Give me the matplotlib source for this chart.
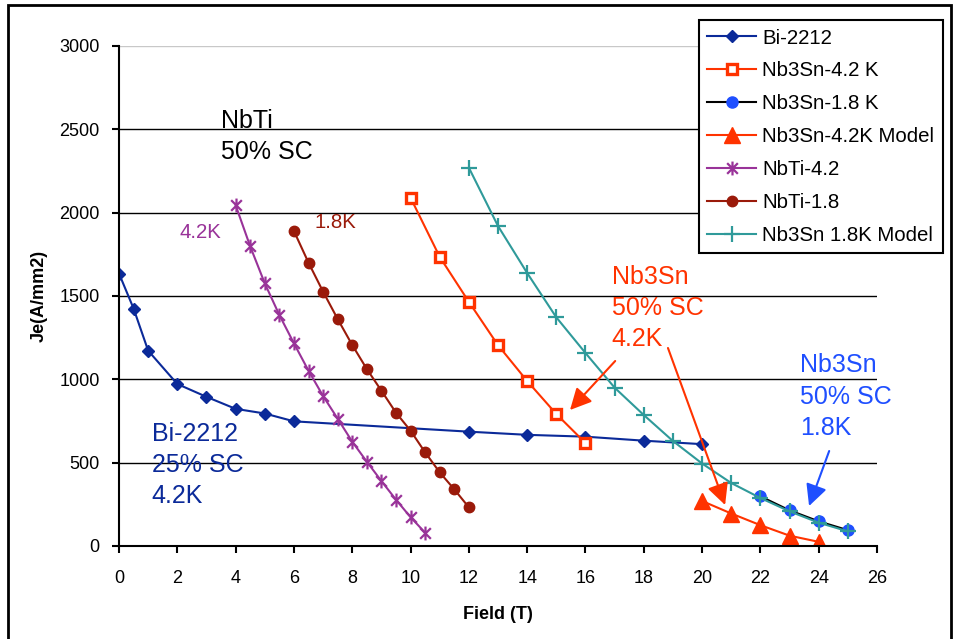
import matplotlib
matplotlib.use("Agg")
import matplotlib.pyplot as plt
from matplotlib.path import Path
from matplotlib.patches import Rectangle

plt.rcParams['font.family'] = ['Liberation Sans', 'DejaVu Sans']

# ---------------- data ----------------
field_bi = [0, 0.5, 1, 2, 3, 4, 5, 6, 12, 14, 16, 18, 20]
je_bi = [1635, 1425, 1172, 972, 895, 823, 795, 748, 686, 667, 656, 632, 611]

field_nb3sn42 = [10, 11, 12, 13, 14, 15, 16]
je_nb3sn42 = [2090, 1735, 1465, 1205, 990, 792, 618]

field_nb3sn18 = [22, 23, 24, 25]
je_nb3sn18 = [298, 214, 148, 95]

field_model42 = [20, 21, 22, 23, 24]
je_model42 = [270, 195, 125, 62, 25]

field_nbti42 = [4, 4.5, 5, 5.5, 6, 6.5, 7, 7.5, 8, 8.5, 9, 9.5, 10, 10.5]
je_nbti42 = [2045, 1798, 1576, 1386, 1216, 1052, 900, 764, 626, 506, 390, 278, 173, 80]

field_nbti18 = [6, 6.5, 7, 7.5, 8, 8.5, 9, 9.5, 10, 10.5, 11, 11.5, 12]
je_nbti18 = [1890, 1700, 1526, 1362, 1206, 1062, 932, 800, 692, 562, 442, 340, 232]

field_model18 = [12, 13, 14, 15, 16, 17, 18, 19, 20, 21, 22, 23, 24, 25]
je_model18 = [2270, 1920, 1638, 1372, 1158, 950, 786, 630, 495, 378, 288, 208, 140, 88]

x_ticks = list(range(0, 27, 2))
y_ticks = [0, 500, 1000, 1500, 2000, 2500, 3000]

labels = ["Bi-2212", "Nb3Sn-4.2 K", "Nb3Sn-1.8 K", "Nb3Sn-4.2K Model",
          "NbTi-4.2", "NbTi-1.8", "Nb3Sn 1.8K Model"]

# ---------------- colours ----------------
c_bi = '#0b2a99'
c_red = '#ff3300'
c_blue = '#1f4fff'
c_purple = '#993399'
c_dred = '#9a1a0a'
c_teal = '#2f9a9a'

star = Path([(-1, -1), (1, 1), (-1, 1), (1, -1), (0, -1.3), (0, 1.3)],
            [Path.MOVETO, Path.LINETO, Path.MOVETO, Path.LINETO, Path.MOVETO, Path.LINETO])

fig = plt.figure(figsize=(9.57, 6.39), dpi=100)
ax = fig.add_axes([119/957, 1-546/639, (877-119)/957, (546-46)/639])

lw = 1.5
h = []
h += ax.plot(field_bi, je_bi, color=c_bi, lw=lw, marker='D', ms=6.5, mfc=c_bi, mec=c_bi, label=labels[0])
h += ax.plot(field_nb3sn42, je_nb3sn42, color=c_red, lw=lw, marker='s', ms=6.5, mfc='white', mec=c_red, mew=2.4, label=labels[1])
h += ax.plot(field_nb3sn18, je_nb3sn18, color='black', lw=lw, marker='o', ms=8, mfc=c_blue, mec=c_blue, label=labels[2])
h += ax.plot(field_model42, je_model42, color=c_red, lw=lw, marker='^', ms=12, mfc=c_red, mec=c_red, label=labels[3])
h += ax.plot(field_nbti42, je_nbti42, color=c_purple, lw=lw, marker=star, ms=10, mfc='none', mec=c_purple, mew=1.6, label=labels[4])
h += ax.plot(field_nbti18, je_nbti18, color=c_dred, lw=lw, marker='o', ms=7.5, mfc=c_dred, mec=c_dred, label=labels[5])
h += ax.plot(field_model18, je_model18, color=c_teal, lw=lw, marker='+', ms=11, mew=1.6, mec=c_teal, label=labels[6])

ax.set_xlim(0, 26)
ax.set_ylim(0, 3000)
ax.set_xticks(x_ticks)
ax.set_yticks(y_ticks)
ax.tick_params(axis='both', direction='out', length=5, width=1.5, labelsize=13, color='black')
ax.tick_params(axis='y', pad=9)
ax.tick_params(axis='x', pad=12)
for s in ['top', 'right']:
    ax.spines[s].set_visible(False)
for s in ['left', 'bottom']:
    ax.spines[s].set_linewidth(1.5)
ax.set_axisbelow(True)
ax.yaxis.grid(True, color='black', lw=1)
gl = ax.get_ygridlines()
gl[-1].set_color('#c8c8c8')

ax.set_xlabel('Field (T)', fontsize=13, fontweight='bold', labelpad=14)
ax.set_ylabel('Je(A/mm2)', fontsize=13, fontweight='bold', labelpad=8)

# annotations
fs = 18
ls = 1.38
ax.text(3.5, 2622, 'NbTi\n50% SC', fontsize=fs, color='black', va='top', ha='left', linespacing=ls)
ax.text(2.07, 1936, '4.2K', fontsize=14.7, color=c_purple, va='top', ha='left')
ax.text(6.70, 1996, '1.8K', fontsize=14.7, color=c_dred, va='top', ha='left')
ax.text(1.12, 746, 'Bi-2212\n25% SC\n4.2K', fontsize=fs, color=c_bi, va='top', ha='left', linespacing=ls)
ax.text(16.9, 1686, 'Nb3Sn\n50% SC\n4.2K', fontsize=fs, color=c_red, va='top', ha='left', linespacing=ls)
ax.text(23.36, 1156, 'Nb3Sn\n50% SC\n1.8K', fontsize=fs, color=c_blue, va='top', ha='left', linespacing=ls)

ap_red = dict(arrowstyle='-|>,head_length=1.3,head_width=0.65', color=c_red, lw=1.5, shrinkA=0, shrinkB=0)
ap_blue = dict(arrowstyle='-|>,head_length=1.3,head_width=0.65', color=c_blue, lw=1.5, shrinkA=0, shrinkB=0)
ax.annotate('', xy=(15.47, 816), xytext=(17.02, 1110), arrowprops=ap_red)
ax.annotate('', xy=(20.79, 246), xytext=(18.83, 1188), arrowprops=ap_red)
ax.annotate('', xy=(23.67, 240), xytext=(24.36, 570), arrowprops=ap_blue)

leg = fig.legend(handles=h, loc='upper right', bbox_to_anchor=(943/957, 1-20/639),
                 fontsize=14.7, frameon=True, fancybox=False, edgecolor='black',
                 framealpha=1, handlelength=2.4, handletextpad=0.3, labelspacing=0.68,
                 borderpad=0.42, borderaxespad=0)
leg.get_frame().set_linewidth(1.5)

fig.patches.append(Rectangle((8/957, -0.05), (951-8)/957, 1.05-5/639, transform=fig.transFigure,
                             fill=False, edgecolor='black', lw=2, clip_on=False))

fig.savefig('out.png', dpi=100)
